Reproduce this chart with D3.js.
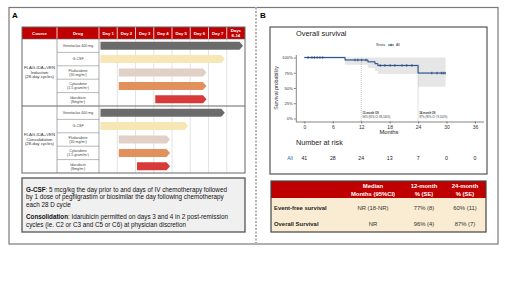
<!DOCTYPE html>
<html><head><meta charset="utf-8">
<script src="https://cdn.jsdelivr.net/npm/d3@7"></script>
<style>
html,body{margin:0;padding:0;background:#fff;}
svg{display:block;font-family:"Liberation Sans",Arial,sans-serif;}
</style></head>
<body>
<svg id="c" width="520" height="292"></svg>
<script>
// ---------------- DATA ----------------
const dayLabels = ["Day 1","Day 2","Day 3","Day 4","Day 5","Day 6","Day 7","Days 8-14"];
const courseLabels = [["FLAG-IDA+VEN","Induction","(28-day cycles)"],["FLAG-IDA+VEN","Consolidation","(28-day cycles)"]];
const drugLabels = [["Venetoclax 400 mg"],["G-CSF"],["Fludarabine","(30 mg/m²)"],["Cytarabine","(1.5 gram/m²)"],["Idarubicin","(8mg/m²)"]];
const drugColors = ["#6b6b6b","#f6e7b4","#e0d0c5","#e3915c","#d83a3a"];
const inductionStart = [1,1,2,2,4];
const inductionEnd   = [8,7,6,6,6];
const consolidationStart = [1,1,2,2,3];
const consolidationEnd   = [7,5,4,4,4];

const kmTimes = [0, 8.6, 13.4, 14.9, 15.5, 24.0];
const kmSurv  = [1.00, 0.96, 0.93, 0.90, 0.87, 0.745];
const kmLower = [1.00, 0.88, 0.83, 0.78, 0.73, 0.52];
const kmEndTime = 29.8;
const censorTimes = [0.8,1.6,2.1,2.7,3.3,3.9, 10.7,11.3,12.1,13.0, 16.0,17.0,18.1,19.1,20.6,21.6,22.7, 26.9,28.0,28.9,29.3,29.7];
const xTicks = [0,6,12,18,24,30,36];
const yTicks = [0,0.25,0.5,0.75,1];
const riskCounts = [41,28,24,13,7,0,0];
const milestones = [{t:12, l1:"12-month OS", l2:"96% (95% CI: 88-100%)"},{t:24, l1:"24-month OS", l2:"87% (95% CI: 73-100%)"}];

const tblHeader = [["",""],["Median","Months (95%CI)"],["12-month","% (SE)"],["24-month","% (SE)"]];
const tblRows = ["Event-free survival","Overall Survival"];
const tblMedian = ["NR (18-NR)","NR"];
const tbl12 = ["77% (8)","96% (4)"];
const tbl24 = ["60% (11)","87% (7)"];

const noteLines = [
  [["G-CSF",true],[": 5 mcg/kg the day prior to and days of IV chemotherapy followed",false]],
  [["by 1 dose of pegfilgrastim or biosimilar the day following chemotherapy",false]],
  [["each 28 D cycle",false]],
  [["Consolidation",true],[": Idarubicin permitted on days 3 and 4 in 2 post-remission",false]],
  [["cycles (ie. C2 or C3 and C5 or C6) at physician discretion",false]]
];

// ---------------- DRAW ----------------
const svg = d3.select("#c");
const RED = "#c00000";

// panel frames
const frame = svg.append("g").attr("stroke","#7a7a7a").attr("stroke-width",1.2).attr("fill","none");
frame.append("rect").attr("x",9).attr("y",7.5).attr("width",489).attr("height",236.5);
svg.append("line").attr("x1",256).attr("x2",256).attr("y1",7.5).attr("y2",244)
  .attr("stroke","#fff").attr("stroke-width",2);
svg.append("line").attr("x1",256).attr("x2",256).attr("y1",7.5).attr("y2",244)
  .attr("stroke","#666").attr("stroke-width",1).attr("stroke-dasharray","2,1.5");
svg.append("text").attr("x",12).attr("y",18).attr("font-size",8).attr("font-weight","bold").text("A");
svg.append("text").attr("x",260).attr("y",18).attr("font-size",8).attr("font-weight","bold").text("B");

// ---------- Panel A : regimen table ----------
const tx0 = 22, tx1 = 245, courseW = 35, drugX1 = 99;
const dayX = d3.scaleBand().domain(d3.range(1,9)).range([drugX1, tx1]).paddingInner(0).paddingOuter(0);
const hdrY0 = 27, hdrY1 = 39, rowH = 13.4;
const secTop = [hdrY1, hdrY1 + 5*rowH];
const tableBottom = secTop[1] + 5*rowH;
const A = svg.append("g");

// header
A.append("rect").attr("x",tx0).attr("y",hdrY0).attr("width",tx1-tx0).attr("height",hdrY1-hdrY0).attr("fill",RED);
const hdrText = (x, lines) => {
  const t = A.append("text").attr("x",x).attr("y", hdrY0 + (lines.length===1?7.7:5.2))
    .attr("text-anchor","middle").attr("fill","#fff").attr("font-size",4.3).attr("font-weight","bold");
  lines.forEach((l,i)=>t.append("tspan").attr("x",x).attr("dy",i?4.3:0).text(l));
};
hdrText(tx0+courseW/2,["Course"]);
hdrText((tx0+courseW+drugX1)/2,["Drug"]);
dayLabels.forEach((d,i)=>{
  const parts = d.startsWith("Days") ? ["Days","8-14"] : [d];
  hdrText(dayX(i+1)+dayX.bandwidth()/2, parts);
});
// header separators
d3.range(1,9).forEach(i=>{
  A.append("line").attr("x1",dayX(i)).attr("x2",dayX(i)).attr("y1",hdrY0).attr("y2",hdrY1).attr("stroke","#fff").attr("stroke-width",0.8);
});
A.append("line").attr("x1",tx0+courseW).attr("x2",tx0+courseW).attr("y1",hdrY0).attr("y2",hdrY1).attr("stroke","#fff").attr("stroke-width",0.8);

// grid lines for day columns (light)
d3.range(2,9).forEach(i=>{
  A.append("line").attr("x1",dayX(i)).attr("x2",dayX(i)).attr("y1",hdrY1).attr("y2",tableBottom).attr("stroke","#d0d0d0").attr("stroke-width",0.6);
});

const sections = [
  {start:inductionStart, end:inductionEnd, course:courseLabels[0]},
  {start:consolidationStart, end:consolidationEnd, course:courseLabels[1]}
];
sections.forEach((s,si)=>{
  const top = secTop[si];
  const cy = top + 5*rowH/2 - 3.5;
  const ct = A.append("text").attr("text-anchor","middle").attr("font-size",4.3).attr("fill","#333");
  s.course.forEach((l,i)=>ct.append("tspan").attr("x",tx0+courseW/2).attr("y",cy + i*4.6).text(l));
  drugLabels.forEach((dl,di)=>{
    const ry = top + di*rowH;
    if(di>0) A.append("line").attr("x1",tx0+courseW).attr("x2",drugX1).attr("y1",ry).attr("y2",ry).attr("stroke","#888").attr("stroke-width",0.6);
    const dt = A.append("text").attr("text-anchor","middle").attr("font-size",3.6).attr("fill","#444");
    const mx = (tx0+courseW+drugX1)/2;
    if(dl.length===1) dt.append("tspan").attr("x",mx).attr("y",ry+rowH/2+1.3).text(dl[0]);
    else dl.forEach((l,i)=>dt.append("tspan").attr("x",mx).attr("y",ry+rowH/2-0.8+i*4).text(l));
    const x0 = dayX(s.start[di]) + 1.5;
    const x1 = dayX(s.end[di]) + dayX.bandwidth() - 2;
    const bh = 8, by = ry + (rowH-bh)/2, tip = 3.5;
    A.append("path").attr("d",`M${x0},${by}L${x1-tip},${by}L${x1},${by+bh/2}L${x1-tip},${by+bh}L${x0},${by+bh}Z`)
      .attr("fill",drugColors[di]);
  });
  A.append("line").attr("x1",tx0).attr("x2",tx1).attr("y1",top).attr("y2",top).attr("stroke","#666").attr("stroke-width",si?1:0.6);
});
[tx0+courseW, drugX1].forEach(x=>A.append("line").attr("x1",x).attr("x2",x).attr("y1",hdrY1).attr("y2",tableBottom).attr("stroke","#888").attr("stroke-width",0.7));
A.append("rect").attr("x",tx0).attr("y",hdrY0).attr("width",tx1-tx0).attr("height",tableBottom-hdrY0)
  .attr("fill","none").attr("stroke","#666").attr("stroke-width",1);

// note box
A.append("rect").attr("x",22).attr("y",178).attr("width",223).attr("height",54)
  .attr("fill","#f0f0f0").attr("stroke","#555").attr("stroke-width",1.3);
const noteY = [191.5, 199.3, 207.1, 219, 226.8];
noteLines.forEach((ln,i)=>{
  const t = A.append("text").attr("x",26).attr("y",noteY[i]).attr("font-size",6.3).attr("fill","#111");
  ln.forEach(([s,b])=>t.append("tspan").attr("font-weight",b?"bold":"normal").text(s));
});

// ---------- Panel B : KM plot ----------
const B = svg.append("g");
B.append("rect").attr("x",270).attr("y",27).attr("width",217).attr("height",147)
  .attr("fill","none").attr("stroke","#555").attr("stroke-width",1.2);
B.append("text").attr("x",296).attr("y",35.5).attr("font-size",7.4).attr("fill","#222").text("Overall survival");

const x = d3.scaleLinear().domain([-1.8,37.8]).range([295.8,483.5]);
const y = d3.scaleLinear().domain([-0.05,1.05]).range([121.5,54.5]);
const KMC = "#24406f";

// legend
B.append("text").attr("x",376).attr("y",46).attr("font-size",3.4).attr("fill","#333").text("Strata");
B.append("line").attr("x1",388).attr("x2",394).attr("y1",45).attr("y2",45).attr("stroke",KMC).attr("stroke-width",0.9);
B.append("line").attr("x1",391).attr("x2",391).attr("y1",43.8).attr("y2",46.2).attr("stroke",KMC).attr("stroke-width",0.8);
B.append("text").attr("x",396).attr("y",46).attr("font-size",3.4).attr("fill","#333").text("All");

// confidence band
const area = d3.area().curve(d3.curveStepAfter)
  .x(d=>x(d.t)).y0(d=>y(d.lo)).y1(()=>y(1));
const bandData = [];
for(let i=1;i<kmTimes.length;i++) bandData.push({t:kmTimes[i], lo:kmLower[i]});
bandData.push({t:kmEndTime, lo:kmLower[kmLower.length-1]});
B.append("path").datum(bandData).attr("d",area).attr("fill","#e6e6e6");

// milestone dotted lines
const survAt = t => { let s=1; kmTimes.forEach((k,i)=>{ if(t>=k) s=kmSurv[i]; }); return s; };
milestones.forEach(m=>{
  B.append("line").attr("x1",x(m.t)).attr("x2",x(m.t)).attr("y1",y(survAt(m.t - 0.01))).attr("y2",y(-0.05))
    .attr("stroke","#999").attr("stroke-width",0.6).attr("stroke-dasharray","1,1");
  B.append("text").attr("x",x(m.t)+1.3).attr("y",114).attr("font-size",2.6).attr("fill","#333").attr("font-weight","bold").text(m.l1);
  B.append("text").attr("x",x(m.t)+1.3).attr("y",117.6).attr("font-size",2.6).attr("fill","#333").text(m.l2);
});

// KM step line
const lineData = kmTimes.map((t,i)=>({t, s:kmSurv[i]})).concat([{t:kmEndTime, s:kmSurv[kmSurv.length-1]}]);
const line = d3.line().curve(d3.curveStepAfter).x(d=>x(d.t)).y(d=>y(d.s));
B.append("path").datum(lineData).attr("d",line).attr("fill","none").attr("stroke","#9ec3ea").attr("stroke-width",2).attr("opacity",0.6);
B.append("path").datum(lineData).attr("d",line).attr("fill","none").attr("stroke",KMC).attr("stroke-width",0.9);
censorTimes.forEach(t=>{
  const cx = x(t), cy = y(survAt(t));
  B.append("line").attr("x1",cx).attr("x2",cx).attr("y1",cy-1.3).attr("y2",cy+1.3).attr("stroke",KMC).attr("stroke-width",0.8);
});

// axes
const xAxis = d3.axisBottom(x).tickValues(xTicks).tickSize(2).tickSizeOuter(0).tickPadding(1.5);
const gx = B.append("g").attr("transform","translate(0,121.5)").call(xAxis);
gx.selectAll("text").attr("font-size",5).attr("fill","#333").attr("font-family","Liberation Sans, Arial, sans-serif");
gx.selectAll("path,line").attr("stroke","#333").attr("stroke-width",0.6);
const yAxis = d3.axisLeft(y).tickValues(yTicks).tickFormat(d3.format(".0%")).tickSize(2).tickSizeOuter(0).tickPadding(1);
const gy = B.append("g").attr("transform","translate(295.8,0)").call(yAxis);
gy.selectAll("text").attr("font-size",4.2).attr("fill","#333").attr("font-family","Liberation Sans, Arial, sans-serif");
gy.selectAll("path,line").attr("stroke","#333").attr("stroke-width",0.6);
B.append("text").attr("x",389).attr("y",134).attr("text-anchor","middle").attr("font-size",5.8).attr("fill","#222").text("Months");
B.append("text").attr("transform","translate(278,88) rotate(-90)").attr("text-anchor","middle").attr("font-size",5.2).attr("fill","#333").text("Survival probability");

// number at risk
B.append("text").attr("x",296).attr("y",145).attr("font-size",7.2).attr("fill","#222").text("Number at risk");
B.append("text").attr("x",290).attr("y",160).attr("text-anchor","middle").attr("font-size",5).attr("fill","#2d5fa6").text("All");
riskCounts.forEach((n,i)=>{
  B.append("text").attr("x",x(xTicks[i])).attr("y",160).attr("text-anchor","middle").attr("font-size",5.2).attr("fill","#222").text(n);
});

// summary table
const T = svg.append("g");
const tX0=271, tX1=486, tY0=181, tHdr=198, tY1=232;
const colX = [274, 373, 424, 465];
T.append("rect").attr("x",tX0).attr("y",tY0).attr("width",tX1-tX0).attr("height",tHdr-tY0).attr("fill",RED);
T.append("rect").attr("x",tX0).attr("y",tHdr).attr("width",tX1-tX0).attr("height",tY1-tHdr).attr("fill","#f9ecd2");
tblHeader.forEach((h,i)=>{
  if(!h[0]) return;
  h.forEach((l,j)=>T.append("text").attr("x",colX[i]).attr("y",188.3+j*7.2).attr("text-anchor","middle")
    .attr("font-size",5.9).attr("font-weight","bold").attr("fill","#fff").text(l));
});
tblRows.forEach((r,i)=>{
  const yy = 210 + i*16;
  T.append("text").attr("x",colX[0]).attr("y",yy).attr("font-size",5.9).attr("font-weight","bold").attr("fill","#222").text(r);
  [tblMedian[i], tbl12[i], tbl24[i]].forEach((v,j)=>T.append("text").attr("x",colX[j+1]).attr("y",yy)
    .attr("text-anchor","middle").attr("font-size",5.9).attr("fill","#333").text(v));
});
T.append("rect").attr("x",tX0).attr("y",tY0).attr("width",tX1-tX0).attr("height",tY1-tY0)
  .attr("fill","none").attr("stroke","#444").attr("stroke-width",1.2);
</script>
</body></html>
